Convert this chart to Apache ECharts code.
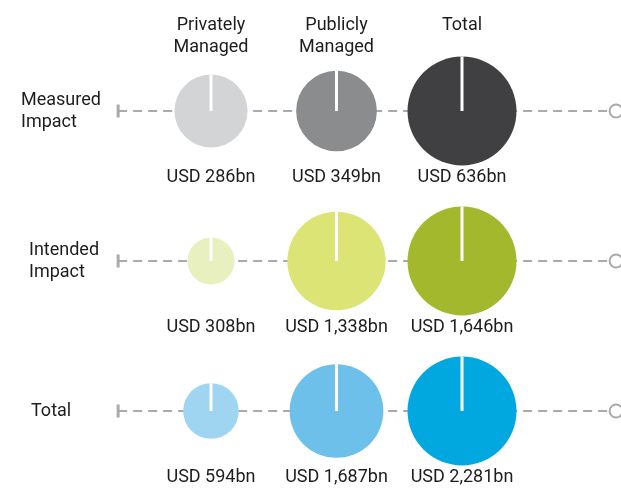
<!DOCTYPE html>
<html>
<head>
<meta charset="utf-8">
<script src="https://cdn.jsdelivr.net/npm/echarts@6/dist/echarts.min.js"></script>
<style>
html, body {margin: 0; padding: 0; background: #fff;}
#chartContainer {width: 621px; height: 491px;}
</style>
</head>
<body>
<div id="chartContainer"></div>
<script>
// 数据
var columns = ['Privately\nManaged', 'Publicly\nManaged', 'Total'];
var rows = ['Measured\nImpact', 'Intended\nImpact', 'Total'];
var measuredImpact = [286, 349, 636];
var intendedImpact = [308, 1338, 1646];
var totalImpact = [594, 1687, 2281];
var rowValues = [measuredImpact, intendedImpact, totalImpact];

var rowColors = [
    ['#d3d4d6', '#8b8c8e', '#404042'],
    ['#e8f0c0', '#dbe474', '#a3b82c'],
    ['#9fd5f1', '#6cc0ea', '#00a8df']
];
var rowLabelLeft = [21, 29, 31];

var MAX_R = 54.5;
var TRACK_START = -0.74;
var TRACK_END = 3.228;
var FONT = 'Roboto';
var TEXT_COLOR = '#1f1c1d';
var LINE_COLOR = '#a9aaac';

var bubbleData = [];
rowValues.forEach(function(vals, row) {
    var rowTotal = vals[vals.length - 1];
    vals.forEach(function(v, col) {
        bubbleData.push({
            value: [col, row, v, rowTotal],
            itemStyle: {color: rowColors[row][col]}
        });
    });
});

// 横向虚线 + 行标题
function renderTrack(params, api) {
    var row = api.value(0);
    var a = api.coord([TRACK_START, row]);
    var b = api.coord([TRACK_END, row]);
    return {
        type: 'group',
        children: [
            {type: 'line', shape: {x1: a[0], y1: a[1], x2: b[0] - 7, y2: b[1]},
             style: {stroke: LINE_COLOR, lineWidth: 2, lineDash: [9, 6]}},
            {type: 'rect', shape: {x: a[0] - 1.5, y: a[1] - 6.5, width: 3, height: 13},
             style: {fill: LINE_COLOR}},
            {type: 'circle', shape: {cx: b[0], cy: b[1], r: 6.5},
             style: {fill: '#fff', stroke: LINE_COLOR, lineWidth: 2}},
            {type: 'text', x: rowLabelLeft[row], y: a[1],
             style: {text: rows[row], font: '18px ' + FONT, fill: TEXT_COLOR,
                      align: 'left', verticalAlign: 'middle', lineHeight: 22}}
        ]
    };
}

// 圆的面积按行总额缩放
function renderBubble(params, api) {
    var c = api.coord([api.value(0), api.value(1)]);
    var v = api.value(2);
    var r = MAX_R * Math.sqrt(v / api.value(3));
    return {
        type: 'group',
        children: [
            {type: 'circle', shape: {cx: c[0], cy: c[1], r: r},
             style: {fill: api.visual('color')}},
            {type: 'line', shape: {x1: c[0], y1: c[1], x2: c[0], y2: c[1] - r},
             style: {stroke: '#fff', lineWidth: 3}},
            {type: 'text', x: c[0], y: c[1] + 66,
             style: {text: 'USD ' + v.toLocaleString('en-US') + 'bn',
                     font: '18px ' + FONT, fill: TEXT_COLOR,
                     align: 'center', verticalAlign: 'middle'}}
        ]
    };
}

function renderHeader(params, api) {
    var c = api.coord([api.value(0), 0]);
    return {
        type: 'text', x: c[0], y: 14,
        style: {text: columns[api.value(0)], font: '18px ' + FONT, fill: TEXT_COLOR,
                align: 'center', verticalAlign: 'top', lineHeight: 22}
    };
}

var myChart = echarts.init(document.getElementById('chartContainer'));
myChart.setOption({
    animation: false,
    grid: {left: 211, right: 159, top: 111, bottom: 80},
    xAxis: {type: 'value', min: 0, max: 2, interval: 1, show: false},
    yAxis: {type: 'value', min: 0, max: 2, interval: 1, inverse: true, show: false},
    series: [
        {type: 'custom', name: 'track', renderItem: renderTrack, z: 1,
         data: rows.map(function(r, i) { return [i]; })},
        {type: 'custom', name: 'bubbles', renderItem: renderBubble, z: 2,
         data: bubbleData},
        {type: 'custom', name: 'headers', renderItem: renderHeader, z: 3,
         data: columns.map(function(c, i) { return [i]; })}
    ]
});
window.onresize = myChart.resize;
</script>
</body>
</html>
